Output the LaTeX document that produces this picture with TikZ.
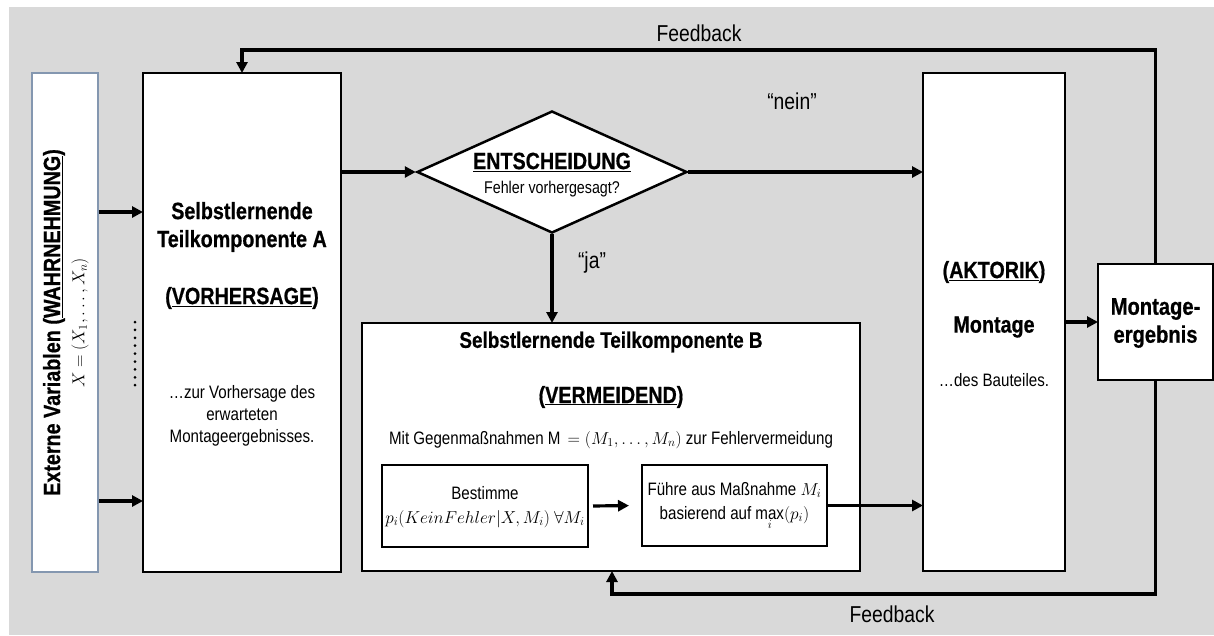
\documentclass[tikz,border=0pt]{standalone}
\usepackage{fontspec}
\setmainfont{Liberation Sans}[FakeStretch=0.84,BoldFeatures={FakeBold=0.6}]
\usetikzlibrary{shapes.geometric,arrows.meta}

\definecolor{bggray}{HTML}{D9D9D9}
\definecolor{edgeblue}{HTML}{8497B0}

\begin{document}
\begin{tikzpicture}[x=1pt,y=-1pt,
  box/.style={draw=black,fill=white,line width=2.5pt,inner sep=0pt,outer sep=0pt},
  conn/.style={line width=3.2pt,-{Triangle[length=11pt,width=11pt]}},
  heading/.style={font=\fontsize{23.5}{28}\selectfont\bfseries,align=center,inner sep=0pt},
  body/.style={font=\fontsize{18}{22}\selectfont,align=center,inner sep=0pt},
  lbl/.style={font=\fontsize{23}{27}\selectfont,inner sep=0pt}]

\useasboundingbox (0,0) rectangle (1214,635);
\fill[white] (0,0) rectangle (1214,635);
\fill[bggray] (9,7) rectangle (1214,635);

% perception column
\node[draw=edgeblue,fill=white,line width=1.8pt,minimum width=66,minimum height=499,inner sep=0pt] (X) at (65,322.5) {};
\node[heading,rotate=90] (Xt1) at (54,322.5) {Externe Variablen (\underline{WAHRNEHMUNG})};
\node[inner sep=0pt,rotate=90,font=\fontsize{17}{20}\selectfont] (Xt2) at (80,323) {$X=(X_1,\dots,X_n)$};

% component A
\node[box,minimum width=198,minimum height=499] (A) at (242,322.5) {};
\node[heading] (At1) at (242,227) {Selbstlernende\\Teilkomponente A};
\node[heading] (At2) at (242,298) {(\underline{VORHERSAGE})};
\node[body] (At3) at (242,416) {…zur Vorhersage des\\erwarteten\\Montageergebnisses.};

% decision
\node[diamond,draw=black,fill=white,line width=2.5pt,inner sep=0pt,minimum width=270,minimum height=122] (D) at (552,172) {};
\node[heading] (Dt1) at (552,162) {\underline{ENTSCHEIDUNG}};
\node[inner sep=0pt,font=\fontsize{17}{20}\selectfont] (Dt2) at (552,189) {Fehler vorhergesagt?};

% component B
\node[box,minimum width=498,minimum height=248] (B) at (611,447) {};
\node[heading,font=\fontsize{22.5}{27}\selectfont\bfseries] (Bt1) at (611,342) {Selbstlernende Teilkomponente B};
\node[heading] (Bt2) at (611,397) {(\underline{VERMEIDEND})};
\node[body] (Bt3) at (611,440) {Mit Gegenmaßnahmen $\mathrm{M}=(M_1,\dots,M_n)$ zur Fehlervermeidung};
\node[box,minimum width=206,minimum height=82] (P) at (485,506) {};
\node[body,font=\fontsize{18}{24}\selectfont] (Pt) at (485,507) {Bestimme\\$p_i(KeinFehler|X,M_i)\ \forall M_i$};
\node[box,minimum width=185,minimum height=81] (Q) at (734.5,505.5) {};
\node[body,font=\fontsize{18}{24}\selectfont] (Qt) at (734.5,506) {Führe aus Maßnahme $M_i$\\basierend auf $\mathop{\mbox{max}}\limits_i(p_i)$};

% actuation
\node[box,minimum width=142,minimum height=498] (M) at (994,322) {};
\node[heading] (Mt1) at (994,272) {(\underline{AKTORIK})};
\node[heading] (Mt2) at (994,327) {Montage};
\node[body] (Mt3) at (994,380) {…des Bauteiles.};

% result
\node[box,minimum width=115,minimum height=116] (E) at (1155.5,322) {};
\node[heading,font=\fontsize{24}{28}\selectfont\bfseries] (Et) at (1155.5,323) {Montage-\\ergebnis};

% routing points
\coordinate (in1) at (0,212);
\coordinate (in2) at (0,501);
\coordinate (fbtop) at (242,50);
\coordinate (fbbot) at (612,594);
\coordinate (dots1) at (135,322);
\coordinate (dots2) at (135,393);

% connectors
\draw[conn] (X.east |- in1) -- (A.west |- in1);
\draw[conn] (X.east |- in2) -- (A.west |- in2);
\draw[line width=3pt,line cap=round,dash pattern=on 0pt off 7.9pt] (dots1) -- (dots2);
\draw[conn] (A.east |- D.west) -- (D.west);
\draw[conn] (D.east) -- (D.east -| M.west);
\draw[conn] (D.south) -- (D.south |- B.north);
\draw[conn,shorten <=5pt,shorten >=13pt] (P.east) -- (Q.west);
\draw[conn] (Q.east) -- (Q.east -| M.west);
\draw[conn] (M.east |- E.west) -- (E.west);
\draw[conn] (E.north) |- (fbtop) -- (A.north);
\draw[conn] (E.south) |- (fbbot) -- (fbbot |- B.south);

% connector labels
\node[lbl] (fb1) at (699,33) {Feedback};
\node[lbl] (fb2) at (892,614) {Feedback};
\node[lbl] (nein) at (792,101) {“nein”};
\node[lbl] (ja) at (592,263) {“ja”};
\end{tikzpicture}
\end{document}
